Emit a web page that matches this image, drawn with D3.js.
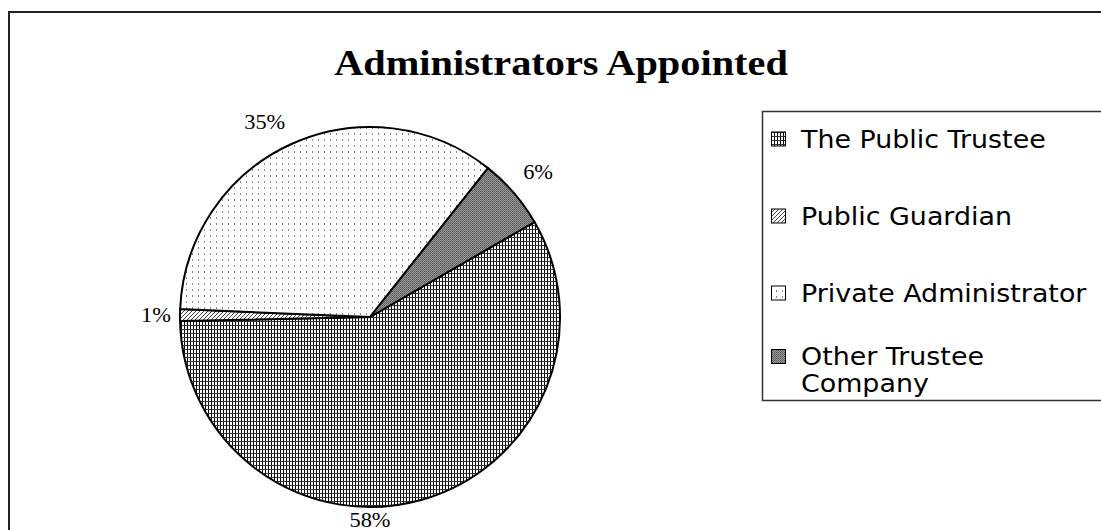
<!DOCTYPE html>
<html>
<head>
<meta charset="utf-8">
<script src="https://cdn.jsdelivr.net/npm/d3@7"></script>
<style>
  html, body { margin: 0; padding: 0; background: #fff; }
  svg { display: block; }
</style>
</head>
<body>
<svg id="chart" width="1101" height="530"></svg>
<script>
// Administrators appointed, share of cases by type of administrator
const categories = ["The Public Trustee", "Public Guardian", "Private Administrator", "Other Trustee Company"];
const shares = [58, 1, 35, 6];
const shareLabels = ["58%", "1%", "35%", "6%"];
const legendLines = [["The Public Trustee"], ["Public Guardian"], ["Private Administrator"], ["Other Trustee", "Company"]];
const title = "Administrators Appointed";

const svg = d3.select("#chart");
const W = 1101, H = 530;
const textStretch = 1.12;

// ---- fill patterns ----
const defs = svg.append("defs");
function pattern(id, w, h, build) {
  const p = defs.append("pattern").attr("id", id)
    .attr("patternUnits", "userSpaceOnUse").attr("width", w).attr("height", h);
  build(p);
}
// fine grid
pattern("pat-grid", 3, 4, p => {
  p.append("rect").attr("width", 3).attr("height", 4).attr("fill", "#fff");
  p.append("rect").attr("x", 0).attr("y", 0).attr("width", 1).attr("height", 4).attr("fill", "#000");
  p.append("rect").attr("x", 0).attr("y", 0).attr("width", 3).attr("height", 1).attr("fill", "#333");
});
// diagonal hatch
pattern("pat-hatch", 4, 4, p => {
  p.append("rect").attr("width", 4).attr("height", 4).attr("fill", "#fff");
  [[3,0],[2,1],[1,2],[0,3]].forEach(([x, y]) =>
    p.append("rect").attr("x", x).attr("y", y).attr("width", 1).attr("height", 1).attr("fill", "#444"));
});
// sparse dots
pattern("pat-dots", 6, 6, p => {
  p.append("rect").attr("width", 6).attr("height", 6).attr("fill", "#fff");
  p.append("rect").attr("x", 2).attr("y", 2).attr("width", 1).attr("height", 2).attr("fill", "#8a8a8a");
});
// medium grey checker
pattern("pat-check", 2, 2, p => {
  p.append("rect").attr("width", 2).attr("height", 2).attr("fill", "#9a9a9a");
  p.append("rect").attr("x", 0).attr("y", 0).attr("width", 1).attr("height", 1).attr("fill", "#555");
  p.append("rect").attr("x", 1).attr("y", 1).attr("width", 1).attr("height", 1).attr("fill", "#666");
});
defs.selectAll("pattern rect").attr("shape-rendering", "crispEdges");

const fillScale = d3.scaleOrdinal()
  .domain(categories)
  .range(["url(#pat-grid)", "url(#pat-hatch)", "url(#pat-dots)", "url(#pat-check)"]);

// ---- chart frame ----
svg.append("rect")
  .attr("x", 9).attr("y", 12).attr("width", W + 50).attr("height", H + 50)
  .attr("fill", "#fff").attr("stroke", "#222").attr("stroke-width", 2);

// ---- title ----
svg.append("text")
  .attr("transform", `translate(561,75) scale(${textStretch},1)`)
  .attr("text-anchor", "middle")
  .attr("font-family", "'Liberation Serif', 'Times New Roman', serif")
  .attr("font-weight", "bold")
  .attr("font-size", 36)
  .attr("fill", "#000")
  .text(title);

// ---- pie ----
const cx = 370, cy = 317, R = 190;
const startDeg = 60;
const pie = d3.pie().sort(null).value(d => d.value)
  .startAngle(startDeg * Math.PI / 180)
  .endAngle(startDeg * Math.PI / 180 + 2 * Math.PI);
const data = categories.map((c, i) => ({ name: c, value: shares[i], label: shareLabels[i] }));
const arcs = pie(data);
const arc = d3.arc().innerRadius(0).outerRadius(R);

const g = svg.append("g").attr("transform", `translate(${cx},${cy})`);
g.selectAll("path.slice")
  .data(arcs)
  .join("path")
  .attr("class", "slice")
  .attr("d", arc)
  .attr("fill", d => fillScale(d.data.name))
  .attr("stroke", "#000")
  .attr("stroke-width", 2)
  .attr("stroke-linejoin", "round");

// percentage labels outside the pie
const labelR = 222;
const labelNudgeDeg = { "The Public Trustee": 15.6, "Private Administrator": -3.7 };
const labelRadius = { "The Public Trustee": 203, "Public Guardian": 214 };
g.selectAll("text.pct")
  .data(arcs)
  .join("text")
  .attr("class", "pct")
  .attr("transform", d => {
    const a = (d.startAngle + d.endAngle) / 2 + (labelNudgeDeg[d.data.name] || 0) * Math.PI / 180;
    const r = labelRadius[d.data.name] || labelR;
    const x = Math.sin(a) * r, y = -Math.cos(a) * r;
    return `translate(${x},${y}) scale(${textStretch},1)`;
  })
  .attr("text-anchor", "middle")
  .attr("dy", "0.35em")
  .attr("font-family", "'Liberation Serif', 'Times New Roman', serif")
  .attr("font-size", 20)
  .attr("fill", "#000")
  .text(d => d.data.label);

// ---- legend ----
const legend = svg.append("g");
legend.append("rect")
  .attr("x", 762.5).attr("y", 111.5).attr("width", 400).attr("height", 289)
  .attr("fill", "#fff").attr("stroke", "#333").attr("stroke-width", 1.5);

const rowY = d3.scalePoint().domain(categories).range([139, 370]);
const lineGap = 27;
categories.forEach((c, i) => {
  const lines = legendLines[i];
  const yc = rowY(c);
  const firstCenter = yc - (lines.length - 1) * lineGap / 2;
  legend.append("rect")
    .attr("x", 771.5).attr("y", firstCenter - 7).attr("width", 14).attr("height", 14)
    .attr("fill", fillScale(c)).attr("stroke", "#000").attr("stroke-width", 1);
  lines.forEach((ln, k) => {
    legend.append("text")
      .attr("transform", `translate(801,${firstCenter + k * lineGap + 8.5}) scale(${textStretch},1)`)
      .attr("font-family", "'DejaVu Sans', Verdana, sans-serif")
      .attr("font-size", 24)
      .attr("fill", "#000")
      .text(ln);
  });
});
</script>
</body>
</html>
